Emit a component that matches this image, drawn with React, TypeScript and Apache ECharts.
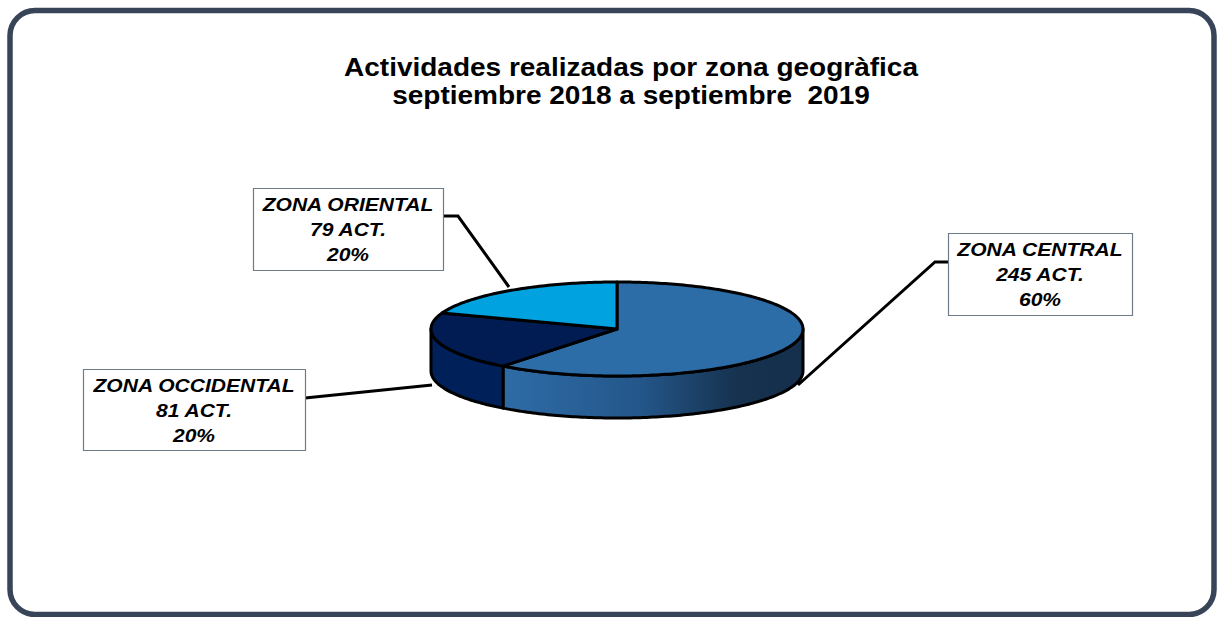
import React, { useEffect, useRef } from "react";
import * as echarts from "echarts";

// ---- data ----
const zones = ["ZONA CENTRAL", "ZONA OCCIDENTAL", "ZONA ORIENTAL"];
const activities = [245, 81, 79];
const unitLabel = "ACT.";
const titleLines = [
  "Actividades realizadas por zona geogràfica",
  "septiembre 2018 a septiembre  2019",
];

// ---- layout / style ----
const PIE = { cx: 617, cy: 329, rx: 186, ry: 47, depth: 42 };
const topColors = ["#2C6DA8", "#001C52", "#00A2DF"];
const sideColors: any[] = [
  new echarts.graphic.LinearGradient(0, 0, 1, 0, [
    { offset: 0, color: "#2E6CA6" },
    { offset: 0.45, color: "#24578B" },
    { offset: 0.78, color: "#16324F" },
    { offset: 1, color: "#152F4C" },
  ]),
  "#00205A",
  "#0090C8",
];
const boxes = [
  { x: 948, y: 233, w: 184, h: 82, line: [[948, 262], [935, 262], [798, 385]] },
  { x: 83, y: 369, w: 222, h: 81, line: [[305, 398], [432, 385]] },
  { x: 253, y: 188, w: 190, h: 82, line: [[443, 216], [458, 216], [509, 287]] },
];
const FONT = "'Liberation Sans', Arial, Helvetica, sans-serif";

function arc(a0: number, a1: number, dy: number) {
  const pts: number[][] = [];
  const n = Math.max(2, Math.ceil(Math.abs(a1 - a0)));
  for (let k = 0; k <= n; k++) {
    const a = ((a0 + ((a1 - a0) * k) / n) * Math.PI) / 180;
    pts.push([PIE.cx + PIE.rx * Math.sin(a), PIE.cy - PIE.ry * Math.cos(a) + dy]);
  }
  return pts;
}

export default function App() {
  const ref = useRef<HTMLDivElement>(null);
  useEffect(() => {
    if (!ref.current) return;
    const chart = echarts.init(ref.current, null, { renderer: "svg" });
    const total = activities.reduce((a, b) => a + b, 0);
    const starts: number[] = [];
    let acc = 0;
    activities.forEach((v) => {
      starts.push(acc);
      acc += v;
    });

    const renderItem = (params: any, api: any) => {
      const i = params.dataIndex;
      const v = api.value(0);
      const a0 = (starts[i] / total) * 360;
      const a1 = a0 + (v / total) * 360;
      const children: any[] = [];
      const s0 = Math.max(a0, 90);
      const s1 = Math.min(a1, 270);
      if (s1 > s0) {
        const top = arc(s0, s1, 0);
        const bot = arc(s1, s0, PIE.depth);
        children.push({
          type: "polygon",
          z2: 1,
          shape: { points: top.concat(bot) },
          style: { fill: sideColors[i], stroke: "#000", lineWidth: 3, lineJoin: "round" },
        });
      }
      const face = [[PIE.cx, PIE.cy]].concat(arc(a0, a1, 0));
      children.push({
        type: "polygon",
        z2: 2,
        shape: { points: face },
        style: { fill: topColors[i], stroke: "#000", lineWidth: 3, lineJoin: "round" },
      });
      return { type: "group", children };
    };

    const graphics: any[] = [
      {
        type: "rect",
        z: -10,
        shape: { x: 10, y: 10.5, width: 1204, height: 604, r: 25 },
        style: { fill: "#fff", stroke: "#384457", lineWidth: 5.5 },
      },
    ];
    titleLines.forEach((t, k) => {
      graphics.push({
        type: "text",
        x: 631,
        y: 68 + k * 28,
        scaleX: 1.12,
        style: {
          text: t,
          align: "center",
          verticalAlign: "middle",
          font: `bold 25px ${FONT}`,
          fill: "#000",
        },
      });
    });
    activities.forEach((v, i) => {
      const b = boxes[i];
      const pct = Math.round((v / total) * 100);
      graphics.push({
        type: "polyline",
        z: 5,
        shape: { points: b.line },
        style: { stroke: "#000", lineWidth: 3, fill: null },
      });
      graphics.push({
        type: "rect",
        z: 6,
        shape: { x: b.x + 0.5, y: b.y + 0.5, width: b.w, height: b.h },
        style: { fill: "#fff", stroke: "#6E7B8B", lineWidth: 1.2 },
      });
      graphics.push({
        type: "text",
        z: 7,
        x: b.x + b.w / 2,
        y: b.y + b.h / 2 + 1,
        scaleX: 1.17,
        style: {
          text: `${zones[i]}\n${v} ${unitLabel}\n${pct}%`,
          align: "center",
          verticalAlign: "middle",
          lineHeight: 25,
          font: `italic bold 18px ${FONT}`,
          fill: "#000",
        },
      });
    });

    chart.setOption({
      animation: false,
      backgroundColor: "#fff",
      graphic: graphics,
      series: [
        {
          type: "custom",
          coordinateSystem: "none",
          renderItem,
          data: activities.map((v, i) => ({ name: zones[i], value: [v] })),
          silent: true,
        },
      ],
    });
    return () => chart.dispose();
  }, []);
  return (
    <div
      ref={ref}
      style={{ position: "absolute", left: 0, top: 0, width: 1217, height: 617 }}
    />
  );
}
